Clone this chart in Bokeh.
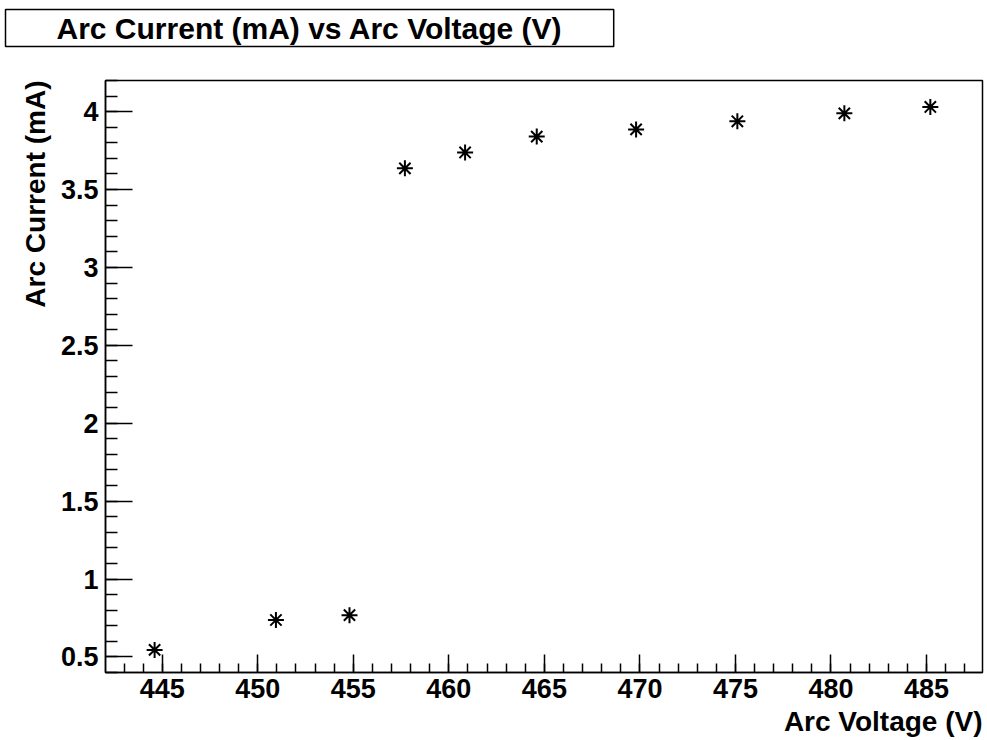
from bokeh.plotting import figure
from bokeh.models import Range1d, FixedTicker, Title
from bokeh.embed import file_html
from bokeh.resources import INLINE

# ---- data ----
arc_voltage = [444.6, 450.95, 454.8, 457.7, 460.85, 464.6, 469.8, 475.1, 480.7, 485.2]
arc_current = [0.545, 0.737, 0.768, 3.636, 3.738, 3.840, 3.886, 3.938, 3.989, 4.030]

x_ticks = [445, 450, 455, 460, 465, 470, 475, 480, 485]
x_minor = list(range(443, 488))
y_ticks = [0.5, 1.0, 1.5, 2.0, 2.5, 3.0, 3.5, 4.0]
y_tick_labels = ["0.5", "1", "1.5", "2", "2.5", "3", "3.5", "4"]
y_minor = [round(0.4 + 0.1 * i, 1) for i in range(39)]

title_text = "Arc Current (mA) vs Arc Voltage (V)"
x_label = "Arc Voltage (V)"
y_label = "Arc Current (mA)"

# ---- layout ----
W, H = 987, 740
L, R, T, B = 105, 5, 80, 68
xmin, xmax = 442.03, 487.93
ymin, ymax = 0.4, 4.2
FONT = "Liberation Sans"

p = figure(width=W, height=H, output_backend="svg", toolbar_location=None,
           x_range=Range1d(xmin, xmax), y_range=Range1d(ymin, ymax),
           min_border_left=L, min_border_right=R, min_border_top=T, min_border_bottom=B)
p.title = None
p.grid.visible = False
p.outline_line_color = "black"
p.outline_line_width = 1.5
p.background_fill_color = "white"
p.border_fill_color = "white"

p.scatter(arc_voltage, arc_current, marker="asterisk", size=16,
          line_color="black", line_width=2)

xa = p.xaxis[0]
xa.ticker = FixedTicker(ticks=x_ticks, minor_ticks=x_minor)
xa.major_tick_in = 18
xa.major_tick_out = 0
xa.minor_tick_in = 9
xa.minor_tick_out = 0
xa.axis_line_width = 1.5
xa.major_tick_line_width = 1.5
xa.minor_tick_line_width = 1.5
xa.major_label_standoff = 6
xa.major_label_text_font = FONT
xa.major_label_text_font_style = "bold"
xa.major_label_text_font_size = "27px"
xa.major_label_text_color = "black"

ya = p.yaxis[0]
ya.ticker = FixedTicker(ticks=y_ticks, minor_ticks=y_minor)
ya.major_label_overrides = {t: s for t, s in zip(y_ticks, y_tick_labels)}
ya.major_tick_in = 27
ya.major_tick_out = 0
ya.minor_tick_in = 12
ya.minor_tick_out = 0
ya.axis_line_width = 1.5
ya.major_tick_line_width = 1.5
ya.minor_tick_line_width = 1.5
ya.major_label_standoff = 7
ya.major_label_text_font = FONT
ya.major_label_text_font_style = "bold"
ya.major_label_text_font_size = "27px"
ya.major_label_text_color = "black"

# spacer between frame and the boxed title, then the boxed title (ROOT style)
p.add_layout(Title(text=" ", text_font_size="1px", standoff=31), "above")
p.add_layout(Title(text=title_text, align="left", offset=-100, standoff=0,
                   text_font=FONT, text_font_style="bold", text_font_size="30px",
                   text_color="black", background_fill_color="white",
                   border_line_color="black", border_line_width=1.5,
                   padding=dict(left=51, right=51, top=2, bottom=2)), "above")

# axis titles at the far ends of the axes
p.add_layout(Title(text=x_label, align="right", text_font=FONT, text_font_style="bold",
                   text_font_size="28px", text_color="black", standoff=6), "below")
p.add_layout(Title(text=y_label, align="right", text_font=FONT, text_font_style="bold",
                   text_font_size="28px", text_color="black", standoff=14), "left")

open("out.html", "w").write(file_html(p, INLINE))
